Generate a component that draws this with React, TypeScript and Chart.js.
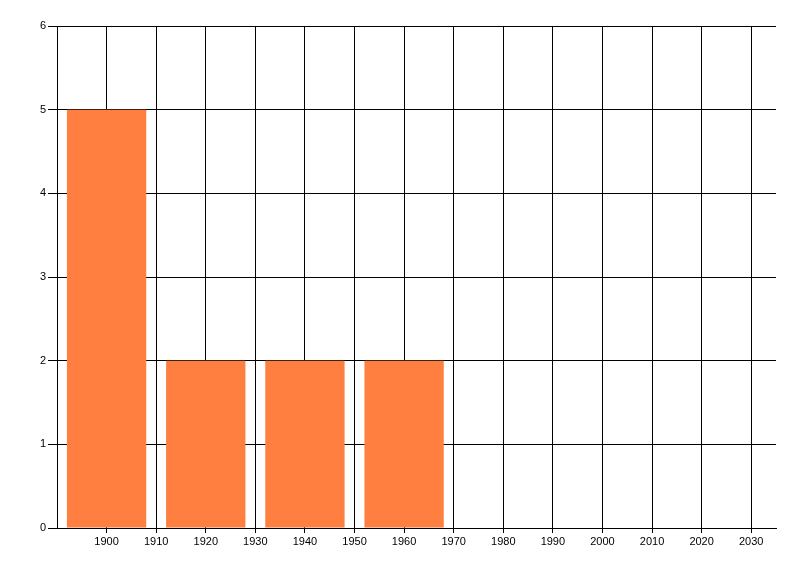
import React, { useEffect, useRef } from "react";
import { Chart, registerables } from "chart.js";

Chart.register(...registerables);

const years = [1900, 1920, 1940, 1960];
const counts = [5, 2, 2, 2];
const xMin = 1890;
const xMax = 2035;
const yMin = 0;
const yMax = 6;

export default function App() {
  const ref = useRef<HTMLCanvasElement | null>(null);
  useEffect(() => {
    document.body.style.margin = "0";
    const ctx = ref.current!.getContext("2d")!;
    const font = { family: "'Liberation Sans', Arial, sans-serif", size: 11 };
    const chart = new Chart(ctx, {
      type: "bar",
      data: {
        datasets: [
          {
            data: years.map((y, i) => ({ x: y, y: counts[i] })),
            backgroundColor: "rgb(255,127,64)",
            borderWidth: 0,
            barPercentage: 1.6,
            categoryPercentage: 1,
          },
        ],
      },
      options: {
        animation: false,
        responsive: false,
        maintainAspectRatio: false,
        layout: { padding: { left: 0, top: 26, right: 24, bottom: 0 } },
        plugins: { legend: { display: false }, tooltip: { enabled: false } },
        scales: {
          x: {
            type: "linear",
            min: xMin,
            max: xMax,
            offset: false,
            afterBuildTicks: (s: any) => {
              s.ticks = s.ticks.filter((t: any) => t.value !== xMin && t.value <= 2030);
            },
            afterFit: (s: any) => {
              s.height = 48;
            },
            ticks: {
              stepSize: 10,
              includeBounds: false,
              autoSkip: false,
              maxRotation: 0,
              color: "#000",
              font,
              padding: 2,
              callback: (v: any) => String(v),
            },
            grid: { color: "#000", lineWidth: 1, tickLength: 5, offset: false },
            border: { color: "#000", width: 1 },
          },
          y: {
            min: yMin,
            max: yMax,
            afterFit: (s: any) => {
              s.width = 57;
            },
            ticks: {
              stepSize: 1,
              color: "#000",
              font,
              padding: 2,
            },
            grid: { color: "#000", lineWidth: 1, tickLength: 9 },
            border: { color: "#000", width: 1 },
          },
        },
      },
    });
    return () => chart.destroy();
  }, []);
  return (
    <div style={{ width: 800, height: 576, background: "#fff" }}>
      <canvas ref={ref} width={800} height={576} style={{ display: "block" }} />
    </div>
  );
}
